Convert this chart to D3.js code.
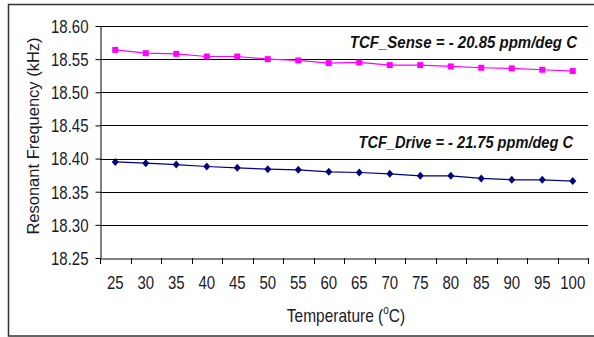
<!DOCTYPE html>
<html><head><meta charset="utf-8">
<script src="https://cdn.jsdelivr.net/npm/d3@7"></script>
<style>body{margin:0;background:#fff}svg{display:block}</style>
</head><body>
<svg id="c" width="594" height="337"></svg>
<script>
const temps = [25,30,35,40,45,50,55,60,65,70,75,80,85,90,95,100];
const senseVals = [18.564,18.559,18.558,18.554,18.554,18.550,18.548,18.544,18.545,18.541,18.541,18.539,18.537,18.536,18.534,18.532];
const driveVals = [18.395,18.393,18.391,18.388,18.386,18.384,18.383,18.380,18.379,18.377,18.374,18.374,18.370,18.368,18.368,18.366];
const yTicks = [18.25,18.30,18.35,18.40,18.45,18.50,18.55,18.60];
const senseLabel = "TCF_Sense = - 20.85 ppm/deg C";
const driveLabel = "TCF_Drive = - 21.75 ppm/deg C";

const svg = d3.select("#c");
const font = "'Liberation Sans', Arial, sans-serif";
const SY = 1.2;
svg.append("rect").attr("x",8.5).attr("y",4.5).attr("width",600).attr("height",331.5)
  .attr("fill","#fff").attr("stroke","#333").attr("stroke-width",1.5);

const L=100, R=588, T=26, B=258;
const x = d3.scaleBand().domain(temps).range([L,R]);
const y = d3.scaleLinear().domain([18.25,18.60]).range([B,T]);

// gridlines
svg.append("g").selectAll("line").data(yTicks.slice(1)).join("line")
  .attr("x1",L).attr("x2",R).attr("y1",d=>Math.round(y(d))+0.5).attr("y2",d=>Math.round(y(d))+0.5)
  .attr("stroke","#000").attr("stroke-width",1);

// y axis
const ya = svg.append("g").attr("transform",`translate(${L+0.5},0)`)
  .call(d3.axisLeft(y).tickValues(yTicks).tickFormat(d3.format(".2f")).tickSize(5).tickSizeOuter(0));
ya.select(".domain").attr("stroke","#000");
ya.selectAll("text").attr("font-family",font).attr("font-size",15).attr("fill","#1a1a2a")
  .attr("x",-12).attr("dy",null).attr("y",6.4/SY).attr("transform",`scale(1,${SY})`);

// x axis
const xa = svg.append("g").attr("transform",`translate(0,${B+0.5})`)
  .call(d3.axisBottom(x).tickSize(0).tickSizeOuter(0));
xa.select(".domain").attr("stroke","#000");
xa.selectAll("text").attr("font-family",font).attr("font-size",15).attr("fill","#1a1a2a")
  .attr("dy",null).attr("y",30.2/SY).attr("transform",`scale(1,${SY})`);
// category boundary ticks
const bounds = temps.map(t=>x(t)).concat([R]);
svg.append("g").selectAll("line").data(bounds).join("line")
  .attr("x1",d=>Math.round(d)+0.5).attr("x2",d=>Math.round(d)+0.5)
  .attr("y1",B).attr("y2",B+6).attr("stroke","#000");

const cx = t => x(t)+x.bandwidth()/2;
const line = d3.line().x((d,i)=>cx(temps[i])).y(d=>y(d));

// sense series
svg.append("path").datum(senseVals).attr("d",line).attr("fill","none").attr("stroke","#ff00ff").attr("stroke-width",1.2);
svg.append("g").selectAll("rect").data(senseVals).join("rect")
  .attr("x",(d,i)=>cx(temps[i])-3).attr("y",d=>y(d)-3).attr("width",6).attr("height",6).attr("fill","#ff00ff");

// drive series
svg.append("path").datum(driveVals).attr("d",line).attr("fill","none").attr("stroke","#000080").attr("stroke-width",1.2);
svg.append("g").selectAll("path.m").data(driveVals).join("path").attr("class","m")
  .attr("d",(d,i)=>{const px=cx(temps[i]),py=y(d);return `M${px},${py-4}L${px+3.5},${py}L${px},${py+4}L${px-3.5},${py}Z`;})
  .attr("fill","#000080");

// stretched text helper
function stext(tx, ty, txt, fs, opts={}) {
  const t = svg.append("text").attr("transform",`translate(${tx},${ty}) scale(1,${opts.sy||SY})`)
    .attr("text-anchor",opts.anchor||"middle").attr("font-family",font).attr("font-size",fs)
    .attr("fill",opts.fill||"#1a1a2a");
  if (opts.bold) t.attr("font-weight","bold");
  if (opts.italic) t.attr("font-style","italic");
  if (txt) t.text(txt);
  return t;
}

// annotations
stext(577,48.3,senseLabel,15,{anchor:"end",bold:true,italic:true,sy:1.08,fill:"#111"});
stext(573,148.3,driveLabel,14.6,{anchor:"end",bold:true,italic:true,sy:1.08,fill:"#111"});

// axis titles
svg.append("text").attr("transform",`translate(39,136) rotate(-90)`).attr("text-anchor","middle")
  .attr("font-family",font).attr("font-size",16.5).attr("fill","#1a1a2a").text("Resonant Frequency (kHz)");
const xt = stext(346,321.5,null,15.5,{});
xt.append("tspan").text("Temperature (");
xt.append("tspan").attr("font-size",10).attr("dy",-6).text("o");
xt.append("tspan").attr("dy",6).text("C)");
</script>
</body></html>
